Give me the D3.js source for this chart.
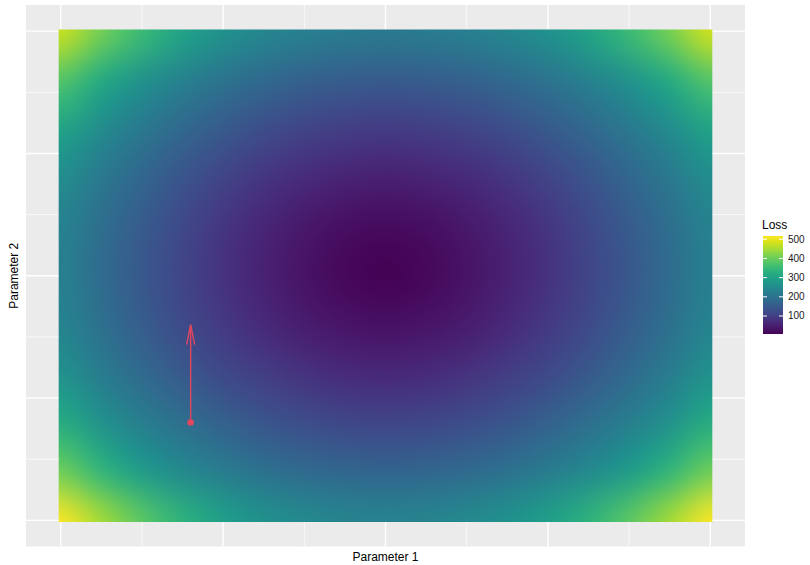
<!DOCTYPE html>
<html>
<head>
<meta charset="utf-8">
<script src="https://cdn.jsdelivr.net/npm/d3@7"></script>
<style>
  body { margin: 0; background: #fff; }
  text { font-family: "Liberation Sans", Arial, Helvetica, sans-serif; }
</style>
</head>
<body>
<div id="chart"></div>
<script>
// DATA
const p1Values = [-2, -1.75, -1.5, -1.25, -1, -0.75, -0.5, -0.25, 0, 0.25, 0.5, 0.75, 1, 1.25, 1.5, 1.75, 2];
const p2Values = [2, 1.6, 1.2, 0.8, 0.4, 0, -0.4, -0.8, -1.2, -1.6, -2];
// loss, one row per p2 value (top to bottom), one column per p1 value
const lossValues = [
  [478, 410, 355, 305, 266, 242, 227, 218, 215, 218, 227, 242, 266, 305, 355, 412, 484],
  [378, 315, 265, 228, 200, 178, 163, 154, 151, 154, 163, 178, 200, 228, 265, 316, 380],
  [302, 250, 210, 176, 148, 125, 109, 99, 95, 99, 109, 125, 148, 176, 210, 250, 302],
  [254, 210, 172, 138, 109, 85, 66, 55, 51, 55, 66, 85, 109, 138, 172, 210, 254],
  [232, 189, 150, 116, 85, 59, 38, 24, 19, 24, 38, 59, 85, 116, 150, 189, 232],
  [226, 184, 145, 110, 79, 52, 30, 14, 6, 14, 30, 52, 79, 110, 145, 184, 226],
  [236, 193, 155, 121, 91, 65, 45, 32, 27, 32, 45, 65, 91, 121, 155, 193, 236],
  [262, 219, 181, 147, 119, 96, 78, 67, 63, 67, 78, 96, 119, 147, 181, 219, 262],
  [320, 262, 223, 190, 162, 140, 124, 114, 111, 114, 124, 140, 162, 190, 223, 262, 320],
  [405, 340, 284, 246, 218, 196, 181, 172, 169, 172, 181, 196, 218, 246, 284, 340, 405],
  [517, 448, 388, 336, 295, 265, 249, 239, 236, 239, 249, 265, 295, 336, 388, 448, 517]
];
const majorBreaks = [-2, -1, 0, 1, 2];
const minorBreaks = [-1.5, -0.5, 0.5, 1.5];
const legendTicks = [100, 200, 300, 400, 500];
const stepFrom = [-1.2, -1.2];
const stepTo = [-1.2, -0.4];

// LAYOUT
const outerWidth = 810;
const outerHeight = 565;
const panel = { left: 26, right: 745, top: 5, bottom: 546.5 };
const halfTile = 0.0125;
// data range plus default 5% expansion on each side
const axisLim = 2 + halfTile + 0.05 * 2 * (2 + halfTile);

const x = d3.scaleLinear().domain([-axisLim, axisLim]).range([panel.left, panel.right]);
const y = d3.scaleLinear().domain([-axisLim, axisLim]).range([panel.bottom, panel.top]);

const allLoss = lossValues.flat();
const color = d3.scaleSequential(d3.interpolateViridis).domain(d3.extent(allLoss));

const svg = d3.select("#chart").append("svg")
  .attr("width", outerWidth)
  .attr("height", outerHeight);

// panel background + grid
svg.append("rect")
  .attr("x", panel.left).attr("y", panel.top)
  .attr("width", panel.right - panel.left).attr("height", panel.bottom - panel.top)
  .attr("fill", "#EBEBEB");

const grid = svg.append("g");
const gridLines = (breaks, w) => {
  grid.selectAll(null).data(breaks).enter().append("line")
    .attr("x1", d => x(d)).attr("x2", d => x(d))
    .attr("y1", panel.top).attr("y2", panel.bottom)
    .attr("stroke", "#fff").attr("stroke-width", w);
  grid.selectAll(null).data(breaks).enter().append("line")
    .attr("y1", d => y(d)).attr("y2", d => y(d))
    .attr("x1", panel.left).attr("x2", panel.right)
    .attr("stroke", "#fff").attr("stroke-width", w);
};
gridLines(minorBreaks, 0.7);
gridLines(majorBreaks, 1.4);

// raster: one pixel per cell, scaled up smoothly (like interpolate = TRUE)
const nCol = p1Values.length, nRow = p2Values.length;
const small = document.createElement("canvas");
small.width = nCol; small.height = nRow;
const sctx = small.getContext("2d");
const img = sctx.createImageData(nCol, nRow);
lossValues.forEach((row, j) => row.forEach((v, i) => {
  const c = d3.rgb(color(v));
  const k = (j * nCol + i) * 4;
  img.data[k] = c.r; img.data[k + 1] = c.g; img.data[k + 2] = c.b; img.data[k + 3] = 255;
}));
sctx.putImageData(img, 0, 0);

const big = document.createElement("canvas");
big.width = outerWidth; big.height = outerHeight;
const bctx = big.getContext("2d");
const rx0 = x(p1Values[0] - halfTile), rx1 = x(p1Values[nCol - 1] + halfTile);
const ry0 = y(p2Values[0] + halfTile), ry1 = y(p2Values[nRow - 1] - halfTile);
bctx.beginPath();
bctx.rect(rx0, ry0, rx1 - rx0, ry1 - ry0);
bctx.clip();
bctx.imageSmoothingEnabled = true;
bctx.imageSmoothingQuality = "high";
const stepX = x(p1Values[1]) - x(p1Values[0]);
const stepY = y(p2Values[1]) - y(p2Values[0]);
bctx.drawImage(small, x(p1Values[0]) - stepX / 2, y(p2Values[0]) - stepY / 2, nCol * stepX, nRow * stepY);

svg.append("image")
  .attr("x", 0).attr("y", 0)
  .attr("width", outerWidth).attr("height", outerHeight)
  .attr("href", big.toDataURL());

// gradient step
const stepColor = "#E0475F";
svg.append("line")
  .attr("x1", x(stepFrom[0])).attr("y1", y(stepFrom[1]))
  .attr("x2", x(stepTo[0])).attr("y2", y(stepTo[1]))
  .attr("stroke", stepColor).attr("stroke-width", 1.4);
const tipX = x(stepTo[0]), tipY = y(stepTo[1]);
svg.append("path")
  .attr("d", `M${tipX - 4},${tipY + 20} L${tipX},${tipY} L${tipX + 4},${tipY + 20}`)
  .attr("fill", "none").attr("stroke", stepColor).attr("stroke-width", 1.4);
svg.append("circle")
  .attr("cx", x(stepFrom[0])).attr("cy", y(stepFrom[1]))
  .attr("r", 3.3).attr("fill", stepColor);

// axis titles
svg.append("text")
  .attr("x", (panel.left + panel.right) / 2).attr("y", 561)
  .attr("text-anchor", "middle").attr("font-size", 12)
  .text("Parameter 1");
svg.append("text")
  .attr("transform", `translate(18, ${(panel.top + panel.bottom) / 2}) rotate(-90)`)
  .attr("text-anchor", "middle").attr("font-size", 12)
  .text("Parameter 2");

// legend
const bar = { x: 763, y: 236, w: 20, h: 98 };
const defs = svg.append("defs");
const grad = defs.append("linearGradient").attr("id", "lossGrad")
  .attr("x1", 0).attr("y1", 1).attr("x2", 0).attr("y2", 0);
d3.range(0, 1.0001, 0.05).forEach(t => {
  grad.append("stop").attr("offset", t).attr("stop-color", d3.interpolateViridis(t));
});
const legend = svg.append("g");
legend.append("text")
  .attr("x", bar.x - 1).attr("y", 229)
  .attr("font-size", 12).text("Loss");
legend.append("rect")
  .attr("x", bar.x).attr("y", bar.y).attr("width", bar.w).attr("height", bar.h)
  .attr("fill", "url(#lossGrad)");
const ly = d3.scaleLinear().domain(color.domain()).range([bar.y + bar.h, bar.y]);
const lt = legend.selectAll(".tick").data(legendTicks).enter().append("g")
  .attr("transform", d => `translate(0, ${ly(d)})`);
lt.append("line").attr("x1", bar.x).attr("x2", bar.x + 4)
  .attr("stroke", "#fff").attr("stroke-width", 1);
lt.append("line").attr("x1", bar.x + bar.w - 4).attr("x2", bar.x + bar.w)
  .attr("stroke", "#fff").attr("stroke-width", 1);
lt.append("text")
  .attr("x", bar.x + bar.w + 5).attr("dy", "0.35em")
  .attr("font-size", 10).attr("fill", "#1a1a1a")
  .text(d => d);
</script>
</body>
</html>
